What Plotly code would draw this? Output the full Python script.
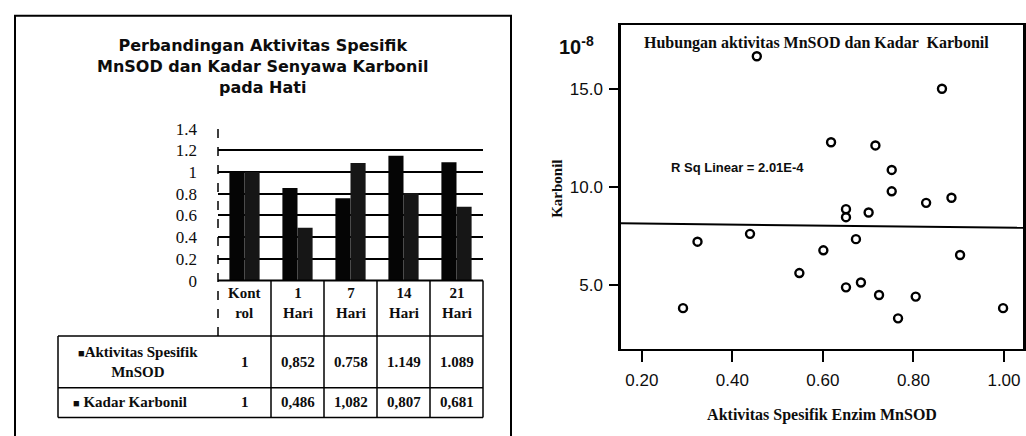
import numpy as np
import plotly.graph_objects as go

W, H = 1026, 436

# ---------------- data ----------------
categories = ["Kontrol", "1 Hari", "7 Hari", "14 Hari", "21 Hari"]
header_labels = ["Kont<br>rol", "1<br>Hari", "7<br>Hari", "14<br>Hari", "21<br>Hari"]
mnsod = [1, 0.852, 0.758, 1.149, 1.089]
karbonil = [1, 0.486, 1.082, 0.807, 0.681]
mnsod_text = ["1", "0,852", "0.758", "1.149", "1.089"]
karbonil_text = ["1", "0,486", "1,082", "0,807", "0,681"]
bar_ticks = [0, 0.2, 0.4, 0.6, 0.8, 1.0, 1.2, 1.4]
bar_ticktext = ["0", "0.2", "0.4", "0.6", "0.8", "1", "1.2", "1.4"]

sc_x = [0.454, 0.863, 0.618, 0.716, 0.752, 0.752, 0.884, 0.828, 0.651, 0.651,
        0.701, 0.323, 0.439, 0.673, 0.601, 0.903, 0.548, 0.684, 0.651, 0.724,
        0.805, 0.291, 0.998, 0.766]
sc_y = [16.69, 15.03, 12.30, 12.14, 10.89, 9.80, 9.47, 9.21, 8.89, 8.48,
        8.72, 7.23, 7.63, 7.36, 6.79, 6.55, 5.63, 5.15, 4.90, 4.51,
        4.43, 3.84, 3.84, 3.32]
sc_xticks = [0.2, 0.4, 0.6, 0.8, 1.0]
sc_xticktext = ["0.20", "0.40", "0.60", "0.80", "1.00"]
sc_yticks = [5, 10, 15]
sc_yticktext = ["5.0", "10.0", "15.0"]


def px(x):
    return x / W


def py(y):
    return 1 - y / H


SERIF = "Liberation Serif"
SANS = "Liberation Sans"
INK = "#0d0d0d"

fig = go.Figure()

# ---------------- bar chart ----------------
fig.add_trace(go.Bar(x=categories, y=mnsod, name="Aktivitas Spesifik MnSOD",
                     marker=dict(color="#050505", line=dict(width=0)),
                     xaxis="x", yaxis="y", showlegend=False))
fig.add_trace(go.Bar(x=categories, y=karbonil, name="Kadar Karbonil",
                     marker=dict(color="#161616", line=dict(width=0)),
                     xaxis="x", yaxis="y", showlegend=False))

# ---------------- scatter ----------------
fig.add_trace(go.Scatter(x=sc_x, y=sc_y, mode="markers",
                         marker=dict(symbol="circle-open", size=8, color="black",
                                     line=dict(width=2.4, color="black")),
                         xaxis="x2", yaxis="y2", showlegend=False))

# linear fit computed from the data
slope, intercept = np.polyfit(sc_x, sc_y, 1)
fx = np.array([0.154, 1.042])
fig.add_trace(go.Scatter(x=fx, y=slope * fx + intercept, mode="lines",
                         line=dict(color="black", width=2),
                         xaxis="x2", yaxis="y2", showlegend=False))

fig.update_layout(
    width=W, height=H,
    margin=dict(l=0, r=0, t=0, b=0),
    paper_bgcolor="white", plot_bgcolor="white",
    barmode="group", bargap=0.43, bargroupgap=0,
    xaxis=dict(domain=[px(218), px(483)], range=[-0.5, 4.5], showticklabels=False,
               showgrid=False, zeroline=False, showline=False, ticks="", fixedrange=True,
               anchor="y"),
    yaxis=dict(domain=[py(284), py(125)], range=[0, 1.4], tickvals=bar_ticks,
               ticktext=bar_ticktext, showgrid=True, gridcolor="black", gridwidth=1.6,
               zeroline=False, showline=False, ticks="", ticklabelstandoff=20,
               tickfont=dict(family=SERIF, size=17, color=INK), anchor="x"),
    xaxis2=dict(domain=[px(621), px(1023)], range=[0.154, 1.042], tickvals=sc_xticks,
                ticktext=sc_xticktext, ticks="outside", ticklen=11, tickwidth=2,
                tickcolor="black", showgrid=False, zeroline=False,
                showline=True, linecolor="black", linewidth=2, mirror=True,
                tickfont=dict(family=SANS, size=17, color=INK), ticklabelstandoff=4,
                anchor="y2",
                title=dict(text="<b>Aktivitas Spesifik Enzim MnSOD</b>",
                           font=dict(family=SERIF, size=16, color=INK), standoff=20)),
    yaxis2=dict(domain=[py(355), py(17)], range=[1.78, 18.27], tickvals=sc_yticks,
                ticktext=sc_yticktext, ticks="outside", ticklen=9, tickwidth=2,
                tickcolor="black", showgrid=False, zeroline=False,
                showline=True, linecolor="black", linewidth=2.5, mirror=True,
                tickfont=dict(family=SANS, size=17, color=INK), ticklabelstandoff=3,
                anchor="x2"),
)

shapes = []
annotations = []


def note(x, y, text, font, xref="paper", **kw):
    d = dict(xref=xref, yref="paper", x=x, y=y, text=text, showarrow=False,
             font=font, xanchor="center", yanchor="middle", align="center")
    d.update(kw)
    annotations.append(d)


# outer frame of the left panel
shapes.append(dict(type="rect", xref="paper", yref="paper", x0=px(15), x1=px(511),
                   y0=-0.05, y1=py(7), line=dict(color="black", width=2)))
# left dashed axis line and bottom line of bar area
shapes.append(dict(type="line", xref="paper", yref="paper", x0=px(218), x1=px(218),
                   y0=py(342), y1=py(125), line=dict(color="black", width=1.5, dash="dash")))
shapes.append(dict(type="line", xref="paper", yref="paper", x0=px(218), x1=px(483),
                   y0=py(284), y1=py(284), line=dict(color="black", width=2)))

# table grid
shapes.append(dict(type="line", xref="paper", yref="paper", x0=px(483), x1=px(483),
                   y0=py(427), y1=py(284), line=dict(color="black", width=1.5)))
for i in range(1, len(categories)):
    shapes.append(dict(type="line", xref="x", yref="paper", x0=i - 0.5, x1=i - 0.5,
                       y0=py(427), y1=py(284), line=dict(color="black", width=1.5)))
shapes.append(dict(type="line", xref="paper", yref="paper", x0=px(58), x1=px(58),
                   y0=py(427), y1=py(342), line=dict(color="black", width=1.5)))
for yy in [342, 396, 427]:
    shapes.append(dict(type="line", xref="paper", yref="paper", x0=px(58), x1=px(483),
                       y0=py(yy), y1=py(yy), line=dict(color="black", width=1.5)))

tfont = dict(family=SERIF, size=15, color=INK)
for i, cat in enumerate(categories):
    note(i, py(307), "<b>" + header_labels[i] + "</b>", tfont, xref="x")
    note(i, py(369), "<b>" + mnsod_text[i] + "</b>", tfont, xref="x")
    note(i, py(411), "<b>" + karbonil_text[i] + "</b>", tfont, xref="x")
note(px(138), py(369),
     "<b><span style='font-size:11px'>■</span>Aktivitas Spesifik<br>MnSOD</b>", tfont)
note(px(130), py(411), "<b><span style='font-size:11px'>■</span> Kadar Karbonil</b>", tfont)

# bar chart title
note(px(262), py(60),
     "<b>Perbandingan Aktivitas Spesifik<br>MnSOD dan Kadar Senyawa Karbonil<br>pada Hati</b>",
     dict(family="DejaVu Sans", size=16, color=INK))

# scatter texts
note(px(816), py(36), "<b>Hubungan aktivitas MnSOD dan Kadar  Karbonil</b>",
     dict(family=SERIF, size=16, color=INK))
note(px(576), py(38), "<b>10<sup>-8</sup></b>", dict(family=SANS, size=20, color=INK))
note(px(737), py(166), "<b>R Sq Linear = 2.01E-4</b>",
     dict(family=SANS, size=13, color=INK))
note(px(557), py(188), "<b>Karbonil</b>", dict(family=SERIF, size=15, color=INK),
     textangle=-90)

fig.update_layout(shapes=shapes, annotations=annotations)
fig.write_html("out.html", config={"displayModeBar": False},
               post_script="document.body.style.margin='0';document.body.style.overflow='hidden';")
